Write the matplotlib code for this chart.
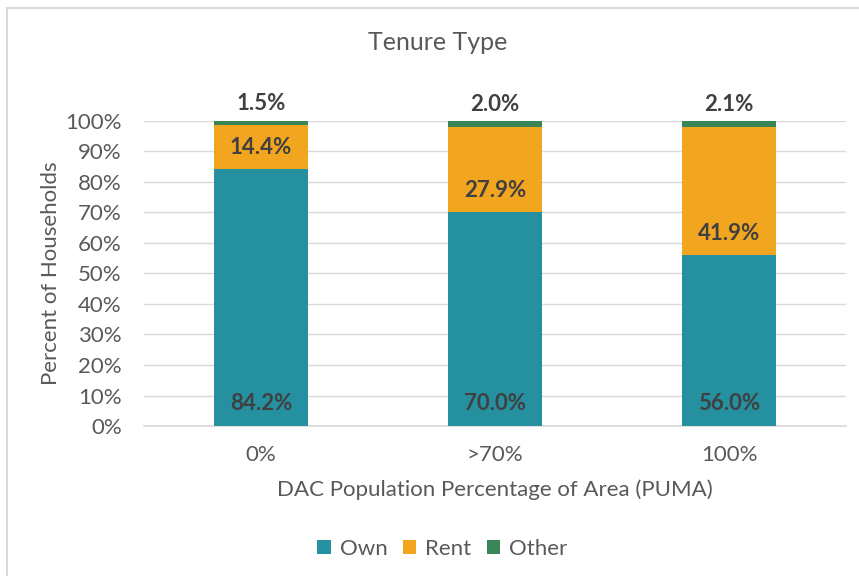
import matplotlib
matplotlib.use('Agg')
import matplotlib.pyplot as plt
from matplotlib.lines import Line2D

categories = ["0%", ">70%", "100%"]
own = [84.2, 70.0, 56.0]
rent = [14.4, 27.9, 41.9]
other = [1.5, 2.0, 2.1]
yticks = list(range(0, 101, 10))

plt.rcParams['font.family'] = ['Lato', 'DejaVu Sans']

c_own = "#2490A0"
c_rent = "#F2A51E"
c_other = "#3A8558"
tick_col = "#595959"
lab_col = "#404040"

fig = plt.figure(figsize=(8.59, 5.76), dpi=100)
ax = fig.add_axes([0.1676, 0.2604, 0.8174, 0.5296])

x = list(range(len(categories)))
w = 0.4
ax.bar(x, own, w, color=c_own, label="Own", zorder=3)
ax.bar(x, rent, w, bottom=own, color=c_rent, label="Rent", zorder=3)
base2 = [a + b for a, b in zip(own, rent)]
ax.bar(x, other, w, bottom=base2, color=c_other, label="Other", zorder=3)

# labels sit near the base of each segment (Excel "inside base")
for i in x:
    ax.text(i, 7.5, f"{own[i]:.1f}%", ha="center", va="center", fontsize=16,
            fontweight="bold", color=lab_col, zorder=4)
    ax.text(i, own[i] + 7.2, f"{rent[i]:.1f}%", ha="center", va="center",
            fontsize=16, fontweight="bold", color=lab_col, zorder=4)
    ax.text(i, base2[i] + other[i] + 5.5, f"{other[i]:.1f}%", ha="center", va="center",
            fontsize=16, fontweight="bold", color=lab_col, zorder=4, clip_on=False)

ax.set_xlim(-0.5, 2.5)
ax.set_ylim(0, 100)
ax.set_yticks(yticks)
ax.set_yticklabels([f"{t}%" for t in yticks])
ax.set_xticks(x)
ax.set_xticklabels(categories)
ax.tick_params(axis="both", length=0, labelsize=16, colors=tick_col)
ax.tick_params(axis="x", pad=14)
ax.tick_params(axis="y", pad=16)
ax.grid(axis="y", color="#D9D9D9", linewidth=1, zorder=0)
for s in ["top", "right", "left"]:
    ax.spines[s].set_visible(False)
ax.spines["bottom"].set_color("#D9D9D9")
ax.spines["bottom"].set_linewidth(1.2)

ax.set_xlabel("DAC Population Percentage of Area (PUMA)", fontsize=16, color=tick_col, labelpad=10)
ax.set_ylabel("Percent of Households", fontsize=16, color=tick_col, labelpad=3)
fig.text(438 / 859, 1 - 43 / 576, "Tenure Type", ha="center", va="center", fontsize=18, color=tick_col)

leg = fig.legend(loc="center", bbox_to_anchor=(0.515, 1 - 549 / 576), ncol=3, frameon=False,
                 fontsize=16, handlelength=0.6, handleheight=0.6, handletextpad=0.4,
                 columnspacing=0.7)
for t in leg.get_texts():
    t.set_color(tick_col)

# chart border (only top and left visible)
fig.add_artist(Line2D([7 / 859, 1], [1 - 7.5 / 576, 1 - 7.5 / 576], color="#D9D9D9", linewidth=1.5))
fig.add_artist(Line2D([7 / 859, 7 / 859], [0, 1 - 7.5 / 576], color="#D9D9D9", linewidth=1.5))

fig.savefig("out.png", dpi=100)
